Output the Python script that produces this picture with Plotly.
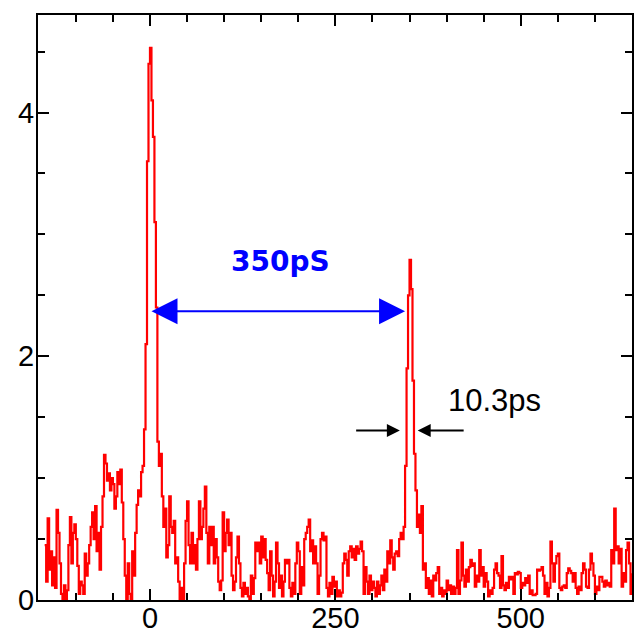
import plotly.graph_objects as go

# Trace sampling: first time point (ps) and spacing (ps)
t0_ps = -142
dt_ps = 2

# Signal samples, one row per 50 ps
signal = [
    # -142 .. -94
    0.45, 0.15, 0.67, 0.25, 0.40, 0.12, 0.35, 0.10, 0.74, 0.55, 0.30, 0.05, 0.00,
    0.12, 0.00, 0.08, 0.45, 0.68, 0.30, 0.55, 0.62, 0.50, 0.28, 0.05, 0.15,
    # -92 .. -44
    0.12, 0.05, 0.38, 0.20, 0.30, 0.45, 0.60, 0.72, 0.50, 0.77, 0.40, 0.55, 0.25,
    0.60, 0.85, 1.19, 1.12, 0.98, 1.04, 0.90, 1.00, 0.95, 0.75, 0.85, 1.05,
    # -42 .. 6
    0.95, 1.07, 0.80, 0.50, 0.20, 0.00, 0.30, 0.05, 0.00, 0.40, 0.20, 0.55, 0.78,
    0.90, 0.85, 1.05, 1.10, 1.40, 2.10, 3.60, 4.40, 4.53, 4.10, 3.80, 3.10,
    # 8 .. 56
    2.40, 1.30, 1.10, 1.20, 0.85, 0.60, 0.75, 0.35, 0.45, 0.85, 0.60, 0.55, 0.65,
    0.30, 0.35, 0.15, 0.00, 0.10, 0.00, 0.30, 0.65, 0.81, 0.45, 0.30, 0.55,
    # 58 .. 106
    0.30, 0.45, 0.25, 0.50, 0.81, 0.50, 0.60, 0.75, 0.93, 0.55, 0.30, 0.60, 0.45,
    0.60, 0.30, 0.50, 0.35, 0.15, 0.08, 0.16, 0.72, 0.40, 0.55, 0.66, 0.45,
    # 108 .. 156
    0.55, 0.20, 0.08, 0.15, 0.35, 0.52, 0.30, 0.10, 0.03, 0.14, 0.05, 0.10, 0.03,
    0.00, 0.20, 0.05, 0.18, 0.47, 0.40, 0.47, 0.30, 0.52, 0.35, 0.50, 0.33,
    # 158 .. 206
    0.22, 0.08, 0.40, 0.20, 0.03, 0.15, 0.47, 0.30, 0.10, 0.20, 0.03, 0.15, 0.33,
    0.30, 0.33, 0.10, 0.03, 0.14, 0.05, 0.30, 0.47, 0.40, 0.05, 0.27, 0.12,
    # 208 .. 256
    0.50, 0.55, 0.60, 0.66, 0.40, 0.49, 0.30, 0.44, 0.30, 0.05, 0.20, 0.50, 0.55,
    0.49, 0.52, 0.10, 0.03, 0.14, 0.05, 0.19, 0.11, 0.15, 0.03, 0.08, 0.03,
    # 258 .. 306
    0.06, 0.30, 0.38, 0.33, 0.20, 0.40, 0.44, 0.35, 0.42, 0.33, 0.44, 0.38, 0.42,
    0.48, 0.40, 0.05, 0.27, 0.15, 0.05, 0.20, 0.08, 0.15, 0.10, 0.03, 0.15,
    # 308 .. 356
    0.05, 0.12, 0.20, 0.08, 0.25, 0.15, 0.40, 0.30, 0.49, 0.35, 0.25, 0.38, 0.40,
    0.36, 0.50, 0.55, 0.50, 0.60, 1.10, 1.90, 2.50, 2.79, 2.55, 1.80, 1.20,
    # 358 .. 406
    0.90, 0.60, 0.70, 0.55, 0.77, 0.25, 0.30, 0.10, 0.18, 0.05, 0.16, 0.03, 0.20,
    0.16, 0.22, 0.27, 0.05, 0.10, 0.03, 0.08, 0.05, 0.16, 0.08, 0.12, 0.05,
    # 408 .. 456
    0.11, 0.05, 0.10, 0.41, 0.05, 0.16, 0.47, 0.20, 0.11, 0.25, 0.15, 0.27, 0.33,
    0.28, 0.30, 0.11, 0.20, 0.15, 0.41, 0.20, 0.27, 0.11, 0.22, 0.15, 0.03,
    # 458 .. 506
    0.08, 0.05, 0.10, 0.25, 0.30, 0.22, 0.20, 0.10, 0.36, 0.12, 0.08, 0.14, 0.10,
    0.19, 0.17, 0.19, 0.05, 0.22, 0.21, 0.23, 0.22, 0.10, 0.14, 0.12, 0.18,
    # 508 .. 556
    0.14, 0.20, 0.05, 0.08, 0.04, 0.04, 0.05, 0.25, 0.24, 0.25, 0.27, 0.20, 0.05,
    0.14, 0.03, 0.10, 0.48, 0.30, 0.15, 0.30, 0.36, 0.38, 0.10, 0.08, 0.11,
    # 558 .. 606
    0.12, 0.10, 0.22, 0.26, 0.24, 0.22, 0.15, 0.22, 0.10, 0.05, 0.11, 0.08, 0.22,
    0.30, 0.25, 0.11, 0.10, 0.25, 0.38, 0.30, 0.20, 0.05, 0.11, 0.08, 0.19,
    # 608 .. 650
    0.19, 0.15, 0.11, 0.16, 0.12, 0.14, 0.11, 0.41, 0.30, 0.75, 0.41, 0.44, 0.30,
    0.42, 0.11, 0.22, 0.15, 0.41, 0.47, 0.30, 0.05, 0.22,
]
time_ps = [t0_ps + dt_ps * i for i in range(len(signal))]

# Axis ticks
x_ticks = [0, 250, 500]
y_ticks = [0, 2, 4]

# Pulse separation marker (ps, signal level)
sep_start, sep_end, sep_level = 0, 344, 2.37
sep_label = "350pS"
# Pulse width marker
fw_left_tail, fw_left_tip = 276, 337
fw_right_tail, fw_right_tip = 425, 361
fw_level = 1.39
fw_label = "10.3ps"

fig = go.Figure()
fig.add_trace(go.Scatter(
    x=time_ps, y=signal, mode="lines",
    line=dict(color="#ff0000", width=2.2, shape="hv"),
    hoverinfo="skip", showlegend=False,
))

# Double-headed separation arrow
fig.add_annotation(
    x=sep_end, y=sep_level, ax=sep_start, ay=sep_level,
    xref="x", yref="y", axref="x", ayref="y",
    text="", showarrow=True, arrowside="end+start",
    arrowhead=2, arrowsize=2.6, arrowwidth=2, arrowcolor="#0000ff",
)
fig.add_annotation(
    x=176, y=2.78, xref="x", yref="y", text=sep_label, showarrow=False,
    font=dict(family="DejaVu Sans", size=28, color="#0000ff", weight="bold"),
)

# Width arrows
fig.add_annotation(
    x=fw_left_tip, y=fw_level, ax=fw_left_tail, ay=fw_level,
    xref="x", yref="y", axref="x", ayref="y",
    text="", showarrow=True, arrowhead=2, arrowsize=1.3, arrowwidth=2,
    arrowcolor="#000000",
)
fig.add_annotation(
    x=fw_right_tip, y=fw_level, ax=fw_right_tail, ay=fw_level,
    xref="x", yref="y", axref="x", ayref="y",
    text="", showarrow=True, arrowhead=2, arrowsize=1.3, arrowwidth=2,
    arrowcolor="#000000",
)
fig.add_annotation(
    x=465, y=1.64, xref="x", yref="y", text=fw_label, showarrow=False,
    font=dict(family="Liberation Sans, Arial", size=31, color="#000000"),
)

axis_common = dict(
    showgrid=False, zeroline=False, showline=True, linecolor="#000000",
    linewidth=2, mirror="ticks", ticks="inside", tickcolor="#000000",
    tickwidth=2, ticklen=11, automargin=False,
    tickfont=dict(family="Liberation Sans, Arial", size=29, color="#000000"),
)

fig.update_xaxes(
    range=[-151, 650], tickvals=x_ticks, ticklabelstandoff=-9,
    minor=dict(dtick=50, tick0=0, ticks="inside", ticklen=7, tickwidth=2,
               tickcolor="#000000", showgrid=False),
    **axis_common,
)
fig.update_yaxes(
    range=[0, 4.8], tickvals=y_ticks, ticklabelstandoff=-4,
    minor=dict(dtick=0.5, tick0=0, ticks="inside", ticklen=7, tickwidth=2,
               tickcolor="#000000", showgrid=False),
    **axis_common,
)

fig.update_layout(
    width=634, height=633,
    margin=dict(l=38, r=2, t=15, b=33),
    paper_bgcolor="#ffffff", plot_bgcolor="#ffffff",
)

fig.write_html("out.html")
